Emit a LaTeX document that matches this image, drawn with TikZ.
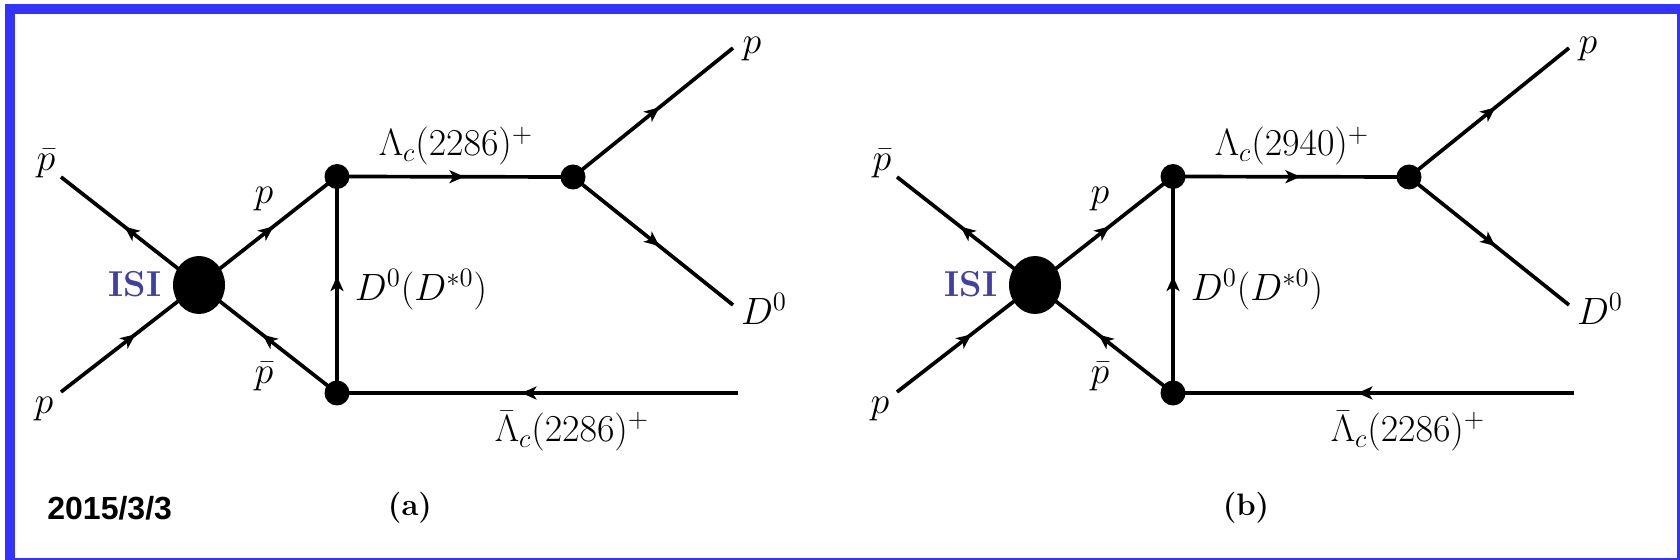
\RequirePackage{fix-cm}
\documentclass[tikz,border=0pt]{standalone}
\usepackage{fontspec}
\newfontfamily\datefont{Liberation Sans}
\usetikzlibrary{shapes.geometric,decorations.markings,arrows.meta,backgrounds}
\definecolor{frameblue}{RGB}{51,51,255}
\definecolor{isiblue}{RGB}{64,64,160}
\tikzset{
  prop/.style={line width=1.85pt, postaction={decorate},
    decoration={markings, mark=at position 0.54 with {\arrow{Stealth[length=7.5pt,width=6.5pt,inset=2pt]}}}},
  vdot/.style={circle, fill=black, inner sep=0pt, minimum size=12.5pt},
  blob/.style={ellipse, fill=black, inner sep=0pt, minimum width=26pt, minimum height=29pt},
  lbl/.style={font=\fontsize{19}{23}\selectfont, inner sep=0pt},
  isi/.style={font=\fontsize{18}{22}\selectfont\bfseries, text=isiblue, inner sep=0pt},
  capt/.style={font=\fontsize{15.5}{19}\selectfont\bfseries, inner sep=0pt},
  datestyle/.style={font=\datefont\bfseries\fontsize{16}{19}\selectfont, inner sep=0pt, anchor=west},
}
\newcommand\FeynPart[4]{%
\begin{scope}[shift={(#2,0)}]
  \node[blob] (#1blob) at (199,285) {};
  \node[vdot] (#1up) at (337,176.5) {};
  \node[vdot] (#1lo) at (337,393) {};
  \node[vdot] (#1rt) at (573,177) {};
  \coordinate (#1inA) at (61,177);
  \coordinate (#1inB) at (61,392);
  \coordinate (#1outA) at (733,48);
  \coordinate (#1outB) at (733,305);
  \coordinate (#1outC) at (738,393);
  \begin{pgfonlayer}{background}
    \draw[prop] (#1blob.center) -- (#1inA);
    \draw[prop] (#1inB) -- (#1blob.center);
    \draw[prop] (#1blob.center) -- (#1up.center);
    \draw[prop] (#1lo.center) -- (#1blob.center);
    \draw[prop] (#1lo.center) -- (#1up.center);
    \draw[prop] (#1up.center) -- (#1rt.center);
    \draw[prop] (#1rt.center) -- (#1outA);
    \draw[prop] (#1rt.center) -- (#1outB);
    \draw[prop] (#1outC) -- (#1lo.center);
  \end{pgfonlayer}
  \node[lbl] (#1lpbar) at (46,164) {$\bar p$};
  \node[lbl] (#1lp) at (44,409) {$p$};
  \node[isi] (#1isi) at (135,284) {ISI};
  \node[lbl] (#1lpup) at (264,199) {$p$};
  \node[lbl] (#1lpbarlo) at (264,377) {$\bar p$};
  \node[lbl] (#1llam) at (456,146) {$\Lambda_c(#3)^+$};
  \node[lbl] (#1lD) at (421,290) {$D^0(D^{*0})$};
  \node[lbl] (#1llambar) at (572,431) {$\bar\Lambda_c(2286)^+$};
  \node[lbl] (#1lpout) at (752,49) {$p$};
  \node[lbl] (#1lDout) at (764,309) {$D^0$};
  \node[capt] (#1cap) at (410,508) {(#4)};
\end{scope}}
\begin{document}
\begin{tikzpicture}[x=0.5pt,y=-0.5pt]
  \useasboundingbox (0,0) rectangle (1680,560);
  \begin{pgfonlayer}{background}
    \fill[frameblue] (5,4) rectangle (1680,560);
    \fill[white] (15,14) rectangle (1677,558);
  \end{pgfonlayer}
  \FeynPart{a}{0}{2286}{a}
  \FeynPart{b}{836}{2940}{b}
  \node[datestyle] (date) at (47,508) {2015/3/3};
\end{tikzpicture}
\end{document}
